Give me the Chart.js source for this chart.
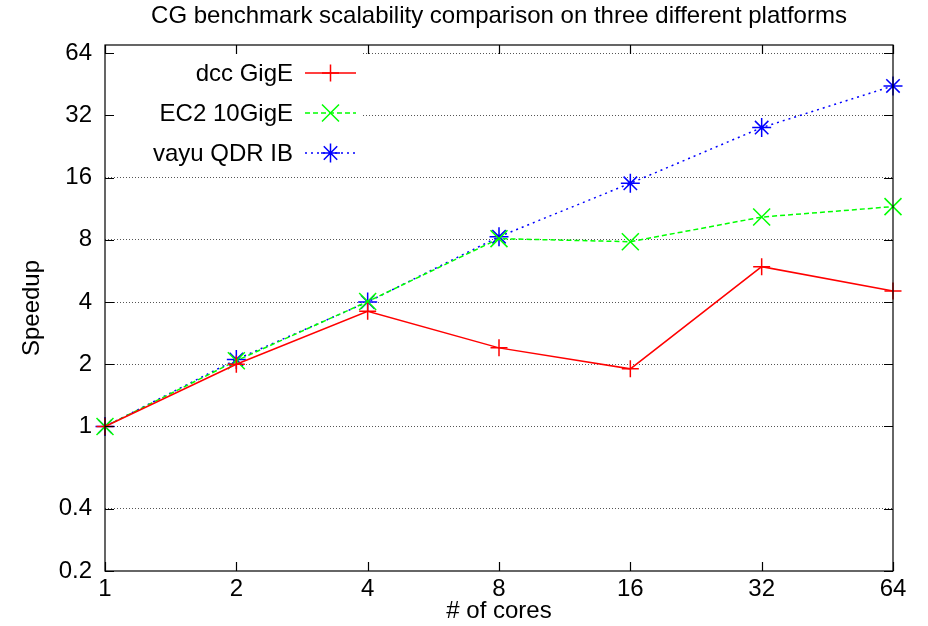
<!DOCTYPE html>
<html>
<head>
<meta charset="utf-8">
<script src="https://cdn.jsdelivr.net/npm/chart.js@4"></script>
<style>
  html, body { margin: 0; padding: 0; background: #fff; }
  #wrap { width: 928px; height: 626px; }
</style>
</head>
<body>
<div id="wrap"><canvas id="c" width="928" height="626"></canvas></div>
<script>
// data
const cores = [1, 2, 4, 8, 16, 32, 64];
const dcc_gige = [1, 2.0, 3.61, 2.40, 1.90, 5.93, 4.52];
const ec2_10gige = [1, 2.08, 4.02, 8.1, 7.83, 10.3, 11.57];
const vayu_qdr_ib = [1, 2.11, 4.0, 8.28, 15.0, 27.9, 44.4];
const y_ticks = [0.2, 0.4, 1, 2, 4, 8, 16, 32, 64];

const FONT = "'Liberation Sans', Arial, sans-serif";
const FS = 24;

const series = [
  { label: "dcc GigE", values: dcc_gige, colour: "#ff0000", dash: [], point: "cross", radius: 8.5 },
  { label: "EC2 10GigE", values: ec2_10gige, colour: "#00ff00", dash: [5, 3], point: "crossRot", radius: 12 },
  { label: "vayu QDR IB", values: vayu_qdr_ib, colour: "#0000ff", dash: [2, 4], point: "star", radius: 9.5 },
];

// gnuplot-ish frame, inward ticks, title, axis labels and boxed key
const gnuplotLook = {
  id: "gnuplotLook",
  beforeDatasetsDraw(chart) {
    // key area hides the grid behind it
    const ctx = chart.ctx;
    ctx.save();
    ctx.fillStyle = "#fff";
    ctx.fillRect(107, 48, 256, 124);
    ctx.restore();
  },
  afterDraw(chart) {
    const ctx = chart.ctx;
    const a = chart.chartArea;
    const xs = chart.scales.x, ys = chart.scales.y;
    ctx.save();

    // frame
    ctx.strokeStyle = "#000";
    ctx.lineWidth = 1.2;
    ctx.setLineDash([]);
    ctx.strokeRect(a.left, a.top, a.right - a.left, a.bottom - a.top);

    // ticks on all four sides, pointing in
    const tl = 9;
    ctx.beginPath();
    y_ticks.forEach(v => {
      const y = Math.round(ys.getPixelForValue(v)) + 0.5;
      ctx.moveTo(a.left, y); ctx.lineTo(a.left + tl, y);
      ctx.moveTo(a.right, y); ctx.lineTo(a.right - tl, y);
    });
    cores.forEach(v => {
      const x = Math.round(xs.getPixelForValue(v)) + 0.5;
      ctx.moveTo(x, a.bottom); ctx.lineTo(x, a.bottom - tl);
      ctx.moveTo(x, a.top); ctx.lineTo(x, a.top + tl);
    });
    ctx.stroke();

    // title
    ctx.fillStyle = "#000";
    ctx.font = FS + "px " + FONT;
    ctx.textAlign = "center";
    ctx.textBaseline = "alphabetic";
    ctx.fillText("CG benchmark scalability comparison on three different platforms", (a.left + a.right) / 2, 23);

    // axis titles
    ctx.fillText("# of cores", (a.left + a.right) / 2, 618);
    ctx.save();
    ctx.translate(39, (a.top + a.bottom) / 2);
    ctx.rotate(-Math.PI / 2);
    ctx.fillText("Speedup", 0, 0);
    ctx.restore();

    // key
    ctx.textAlign = "right";
    ctx.textBaseline = "middle";
    series.forEach((s, i) => {
      const y = 73 + i * 40;
      ctx.fillStyle = "#000";
      ctx.fillText(s.label, 293, y + 1);
      ctx.strokeStyle = s.colour;
      ctx.lineWidth = 1.5;
      ctx.setLineDash(s.dash);
      ctx.beginPath();
      ctx.moveTo(305, y); ctx.lineTo(356, y);
      ctx.stroke();
      ctx.setLineDash([]);
      Chart.helpers.drawPoint(ctx, { pointStyle: s.point, radius: s.radius, rotation: 0, borderWidth: 1.5 }, 330.5, y);
    });
    ctx.restore();
  }
};

new Chart(document.getElementById("c"), {
  type: "line",
  data: {
    datasets: series.map(s => ({
      label: s.label,
      data: cores.map((c, i) => ({ x: c, y: s.values[i] })),
      borderColor: s.colour,
      backgroundColor: s.colour,
      borderWidth: 1.5,
      borderDash: s.dash,
      pointStyle: s.point,
      pointRadius: s.radius,
      pointBorderWidth: 1.5,
      pointBorderColor: s.colour,
      tension: 0,
      fill: false,
      clip: false,
    }))
  },
  options: {
    responsive: false,
    animation: false,
    devicePixelRatio: 1,
    layout: { padding: { top: 45, right: 35, left: 0, bottom: 0 } },
    plugins: {
      legend: { display: false },
      title: { display: false },
      tooltip: { enabled: false },
    },
    scales: {
      x: {
        type: "logarithmic",
        min: 1,
        max: 64,
        afterBuildTicks: (scale) => { scale.ticks = cores.map(v => ({ value: v })); },
        afterFit: (scale) => { scale.height = 55; },
        grid: { display: false, drawTicks: false },
        border: { display: false },
        ticks: {
          color: "#000",
          font: { family: FONT, size: FS },
          padding: 4,
          maxRotation: 0,
          autoSkip: false,
          callback: (v) => String(v),
        },
      },
      y: {
        type: "logarithmic",
        min: 0.2,
        max: 70,
        afterBuildTicks: (scale) => { scale.ticks = y_ticks.map(v => ({ value: v })); },
        afterFit: (scale) => { scale.width = 105; },
        grid: {
          drawTicks: false,
          color: (c) => (c.tick && c.tick.value === 0.2 ? "rgba(0,0,0,0)" : "#555"),
          lineWidth: 1,
        },
        border: { display: false, dash: [1, 2] },
        ticks: {
          color: "#000",
          font: { family: FONT, size: FS },
          padding: 13,
          autoSkip: false,
          callback: (v) => String(v),
        },
      },
    },
  },
  plugins: [gnuplotLook],
});
</script>
</body>
</html>
